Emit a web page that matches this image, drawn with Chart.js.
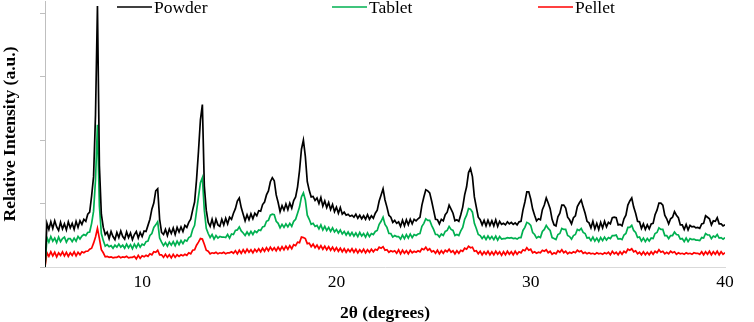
<!DOCTYPE html>
<html><head><meta charset="utf-8">
<script src="https://cdn.jsdelivr.net/npm/chart.js@4.4.1/dist/chart.umd.min.js"></script>
<style>html,body{margin:0;padding:0;background:#fff;}canvas{display:block;}</style>
</head><body>
<canvas id="c" width="754" height="322"></canvas>
<script>
// 2θ scan positions (degrees)
const twoTheta = [
5.0,5.1,5.2,5.3,5.4,5.5,5.6,5.7,5.8,5.9,
6.0,6.1,6.2,6.3,6.4,6.5,6.6,6.7,6.8,6.9,
7.0,7.1,7.2,7.3,7.4,7.5,7.6,7.7,7.8,7.9,
8.0,8.1,8.2,8.3,8.4,8.5,8.6,8.7,8.8,8.9,
9.0,9.1,9.2,9.3,9.4,9.5,9.6,9.7,9.8,9.9,
10.0,10.1,10.2,10.3,10.4,10.5,10.6,10.7,10.8,10.9,
11.0,11.1,11.2,11.3,11.4,11.5,11.6,11.7,11.8,11.9,
12.0,12.1,12.2,12.3,12.4,12.5,12.6,12.7,12.8,12.9,
13.0,13.1,13.2,13.3,13.4,13.5,13.6,13.7,13.8,13.9,
14.0,14.1,14.2,14.3,14.4,14.5,14.6,14.7,14.8,14.9,
15.0,15.1,15.2,15.3,15.4,15.5,15.6,15.7,15.8,15.9,
16.0,16.1,16.2,16.3,16.4,16.5,16.6,16.7,16.8,16.9,
17.0,17.1,17.2,17.3,17.4,17.5,17.6,17.7,17.8,17.9,
18.0,18.1,18.2,18.3,18.4,18.5,18.6,18.7,18.8,18.9,
19.0,19.1,19.2,19.3,19.4,19.5,19.6,19.7,19.8,19.9,
20.0,20.1,20.2,20.3,20.4,20.5,20.6,20.7,20.8,20.9,
21.0,21.1,21.2,21.3,21.4,21.5,21.6,21.7,21.8,21.9,
22.0,22.1,22.2,22.3,22.4,22.5,22.6,22.7,22.8,22.9,
23.0,23.1,23.2,23.3,23.4,23.5,23.6,23.7,23.8,23.9,
24.0,24.1,24.2,24.3,24.4,24.5,24.6,24.7,24.8,24.9,
25.0,25.1,25.2,25.3,25.4,25.5,25.6,25.7,25.8,25.9,
26.0,26.1,26.2,26.3,26.4,26.5,26.6,26.7,26.8,26.9,
27.0,27.1,27.2,27.3,27.4,27.5,27.6,27.7,27.8,27.9,
28.0,28.1,28.2,28.3,28.4,28.5,28.6,28.7,28.8,28.9,
29.0,29.1,29.2,29.3,29.4,29.5,29.6,29.7,29.8,29.9,
30.0,30.1,30.2,30.3,30.4,30.5,30.6,30.7,30.8,30.9,
31.0,31.1,31.2,31.3,31.4,31.5,31.6,31.7,31.8,31.9,
32.0,32.1,32.2,32.3,32.4,32.5,32.6,32.7,32.8,32.9,
33.0,33.1,33.2,33.3,33.4,33.5,33.6,33.7,33.8,33.9,
34.0,34.1,34.2,34.3,34.4,34.5,34.6,34.7,34.8,34.9,
35.0,35.1,35.2,35.3,35.4,35.5,35.6,35.7,35.8,35.9,
36.0,36.1,36.2,36.3,36.4,36.5,36.6,36.7,36.8,36.9,
37.0,37.1,37.2,37.3,37.4,37.5,37.6,37.7,37.8,37.9,
38.0,38.1,38.2,38.3,38.4,38.5,38.6,38.7,38.8,38.9,
39.0,39.1,39.2,39.3,39.4,39.5,39.6,39.7,39.8,39.9,
40.0];

// Relative intensity (a.u.)
const powder = [
0,430,370,445,380,455,395,360,440,375,
425,365,445,385,430,370,450,390,455,420,
470,450,520,540,700,890,1500,2570,1000,520,
390,320,345,280,350,300,270,340,290,355,
300,275,345,290,335,270,320,350,285,340,
300,355,350,410,470,570,630,750,770,470,
340,320,370,310,375,330,385,320,390,345,
395,350,410,390,440,470,560,640,860,1140,
1450,1600,800,560,440,400,470,395,470,415,
400,470,415,480,425,490,470,530,575,650,
680,585,520,455,515,465,525,475,530,505,
555,550,615,640,710,750,840,880,850,710,
635,545,605,560,620,565,630,580,655,690,
790,950,1160,1250,1090,840,755,690,695,655,
680,625,685,600,650,585,635,565,615,545,
590,530,585,520,540,510,520,500,510,490,
520,480,510,475,505,470,515,470,505,480,
530,560,650,710,770,660,590,510,490,440,
460,430,445,400,460,405,465,415,470,425,
470,455,475,490,610,690,760,750,730,650,
560,470,465,425,470,455,515,540,610,570,
530,455,465,450,515,590,710,790,930,970,
890,690,590,490,465,415,460,405,460,410,
455,405,465,400,450,420,430,415,445,425,
440,420,435,415,445,450,560,640,740,740,
670,570,510,455,475,465,565,610,680,630,
575,470,415,405,495,530,610,610,580,490,
465,425,485,505,595,630,660,590,530,450,
435,385,450,375,430,370,440,385,450,395,
440,425,485,490,485,415,420,405,475,510,
610,650,680,590,530,450,445,380,425,370,
415,375,425,430,515,560,630,630,610,510,
475,425,475,490,545,510,485,415,415,370,
420,365,410,395,400,385,390,380,425,430,
505,490,475,415,455,450,485,425,425,405,
415];

const tablet = [
0,290,245,300,255,285,240,295,250,280,
295,245,280,280,250,285,255,300,275,305,
320,310,340,345,430,550,860,1400,600,330,
260,205,220,200,210,185,215,195,225,195,
215,185,225,190,220,180,225,190,230,195,
225,215,250,255,310,330,390,415,445,285,
245,210,240,205,245,215,250,210,255,220,
260,230,265,255,290,300,370,410,550,690,
830,880,560,380,330,290,320,275,310,285,
300,295,295,290,320,285,325,320,360,365,
395,355,335,310,345,315,350,320,355,340,
365,360,395,400,450,460,510,520,515,450,
430,385,420,390,425,395,430,400,450,470,
530,590,690,730,660,510,470,420,430,400,
410,375,415,365,400,360,390,350,385,345,
370,335,365,325,350,315,345,310,340,305,
335,300,340,305,330,295,335,300,330,320,
350,360,420,450,490,420,390,330,330,295,
310,300,300,275,315,280,320,285,325,290,
320,310,325,330,400,430,475,460,460,410,
370,320,320,295,325,310,350,360,400,370,
360,310,320,310,355,390,470,510,575,570,
540,430,380,320,310,280,305,270,305,275,
300,270,305,265,300,275,280,280,290,285,
290,280,285,275,290,290,360,390,440,430,
410,340,320,285,300,290,350,370,410,380,
360,290,280,270,320,330,380,370,370,310,
300,275,310,320,370,360,380,340,330,285,
290,260,295,255,285,250,290,260,295,265,
290,280,310,310,315,275,280,270,315,330,
390,390,410,360,340,290,295,255,285,250,
280,255,285,280,330,340,385,370,370,310,
310,280,310,310,345,320,315,275,280,250,
285,250,280,270,275,265,265,260,290,285,
330,315,315,280,305,295,320,285,290,275,
290];

const pellet = [
0,140,105,150,110,145,100,140,115,150,
110,145,105,140,115,150,110,145,120,150,
140,155,155,175,185,235,295,380,280,170,
140,100,105,95,100,90,95,95,105,90,
100,95,105,90,95,95,105,80,115,85,
110,100,115,105,130,120,150,145,165,120,
120,95,125,95,120,90,125,95,120,105,
120,110,125,115,140,130,165,170,215,245,
280,275,225,165,155,130,140,135,145,130,
140,135,145,130,140,140,150,135,160,130,
165,135,170,140,175,145,170,140,175,150,
180,150,185,155,190,160,195,165,190,160,
195,165,200,170,205,175,210,180,220,210,
245,240,295,290,280,230,235,200,225,190,
215,180,210,175,205,170,200,165,195,160,
190,155,185,150,180,145,175,150,180,145,
175,140,170,145,175,140,170,145,175,150,
175,165,195,185,200,165,170,145,160,150,
160,135,170,130,165,135,160,130,165,140,
155,145,160,150,180,170,195,165,180,150,
160,135,165,130,160,135,165,150,175,145,
160,130,160,135,165,155,185,175,205,190,
195,155,160,130,155,120,150,125,155,120,
150,120,155,125,150,115,150,120,155,125,
150,120,155,125,150,140,170,160,190,165,
175,140,150,135,145,140,165,155,170,140,
155,125,140,130,160,145,170,140,155,130,
145,135,150,140,165,150,160,135,145,130,
140,130,135,125,140,130,135,125,140,130,
145,120,155,130,145,120,150,125,155,140,
175,165,180,150,160,130,145,120,150,120,
145,120,150,125,155,140,170,145,155,130,
145,130,155,140,150,125,140,130,135,125,
140,130,135,125,140,135,135,125,150,120,
150,125,155,120,150,125,155,120,150,125,
140];

const seriesNames = ['Powder', 'Tablet', 'Pellet'];
const seriesColors = ['#000000', '#00B050', '#FF0000'];
const xTicks = [10, 20, 30, 40];
const yTicks = [0, 625, 1250, 1875, 2500];
const xTitle = '2\u03B8 (degrees)';
const yTitle = 'Relative Intensity (a.u.)';

const seriesValues = [powder, tablet, pellet];
const datasets = seriesNames.map((name, k) => ({
  label: name,
  data: seriesValues[k].map((v, i) => ({x: twoTheta[i], y: v})),
  borderColor: seriesColors[k],
  backgroundColor: seriesColors[k],
  borderWidth: 1.7,
  pointRadius: 0,
  tension: 0,
  fill: false
}));

const SERIF = '"Liberation Serif", "Times New Roman", serif';

const manualLegend = {
  id: 'manualLegend',
  afterDatasetsDraw(chart) {
    const ctx = chart.ctx;
    const starts = [117, 332, 538];
    ctx.save();
    ctx.font = '17.5px ' + SERIF;
    ctx.textBaseline = 'alphabetic';
    ctx.textAlign = 'left';
    chart.data.datasets.forEach((ds, i) => {
      ctx.strokeStyle = ds.borderColor;
      ctx.lineWidth = 1.5;
      ctx.beginPath();
      ctx.moveTo(starts[i], 7);
      ctx.lineTo(starts[i] + 35, 7);
      ctx.stroke();
      ctx.fillStyle = '#000';
      ctx.fillText(ds.label, starts[i] + 37, 13);
    });
    ctx.restore();
  }
};

new Chart(document.getElementById('c'), {
  type: 'line',
  data: {datasets},
  plugins: [manualLegend],
  options: {
    responsive: false,
    animation: false,
    events: [],
    layout: {padding: {top: 1, right: 29, left: 0, bottom: 0}},
    plugins: {legend: {display: false}, tooltip: {enabled: false}},
    scales: {
      x: {
        type: 'linear', min: 5, max: 40,
        afterBuildTicks: s => { s.ticks = xTicks.map(v => ({value: v})); },
        afterFit: s => { s.height = 55; },
        grid: {display: true, drawOnChartArea: false, drawTicks: false},
        border: {display: true, color: '#d9d9d9', width: 1},
        ticks: {color: '#000', font: {family: SERIF, size: 17.5}, padding: 5, maxRotation: 0, autoSkip: false},
        title: {display: true, text: xTitle, color: '#000',
          font: {family: SERIF, size: 17.5, weight: 'bold', lineHeight: 1}, padding: {top: 0, bottom: 0}}
      },
      y: {
        min: 0, max: 2620,
        afterBuildTicks: s => { s.ticks = yTicks.map(v => ({value: v})); },
        afterFit: s => { s.width = 45; },
        grid: {display: true, drawOnChartArea: false, drawTicks: true, tickLength: 5, color: '#bfbfbf'},
        border: {display: true, color: '#bfbfbf', width: 1},
        ticks: {display: false},
        title: {display: true, text: yTitle, color: '#000',
          font: {family: SERIF, size: 17.5, weight: 'bold', lineHeight: 1}, padding: {top: 2, bottom: 0}}
      }
    }
  }
});
</script>
</body></html>
